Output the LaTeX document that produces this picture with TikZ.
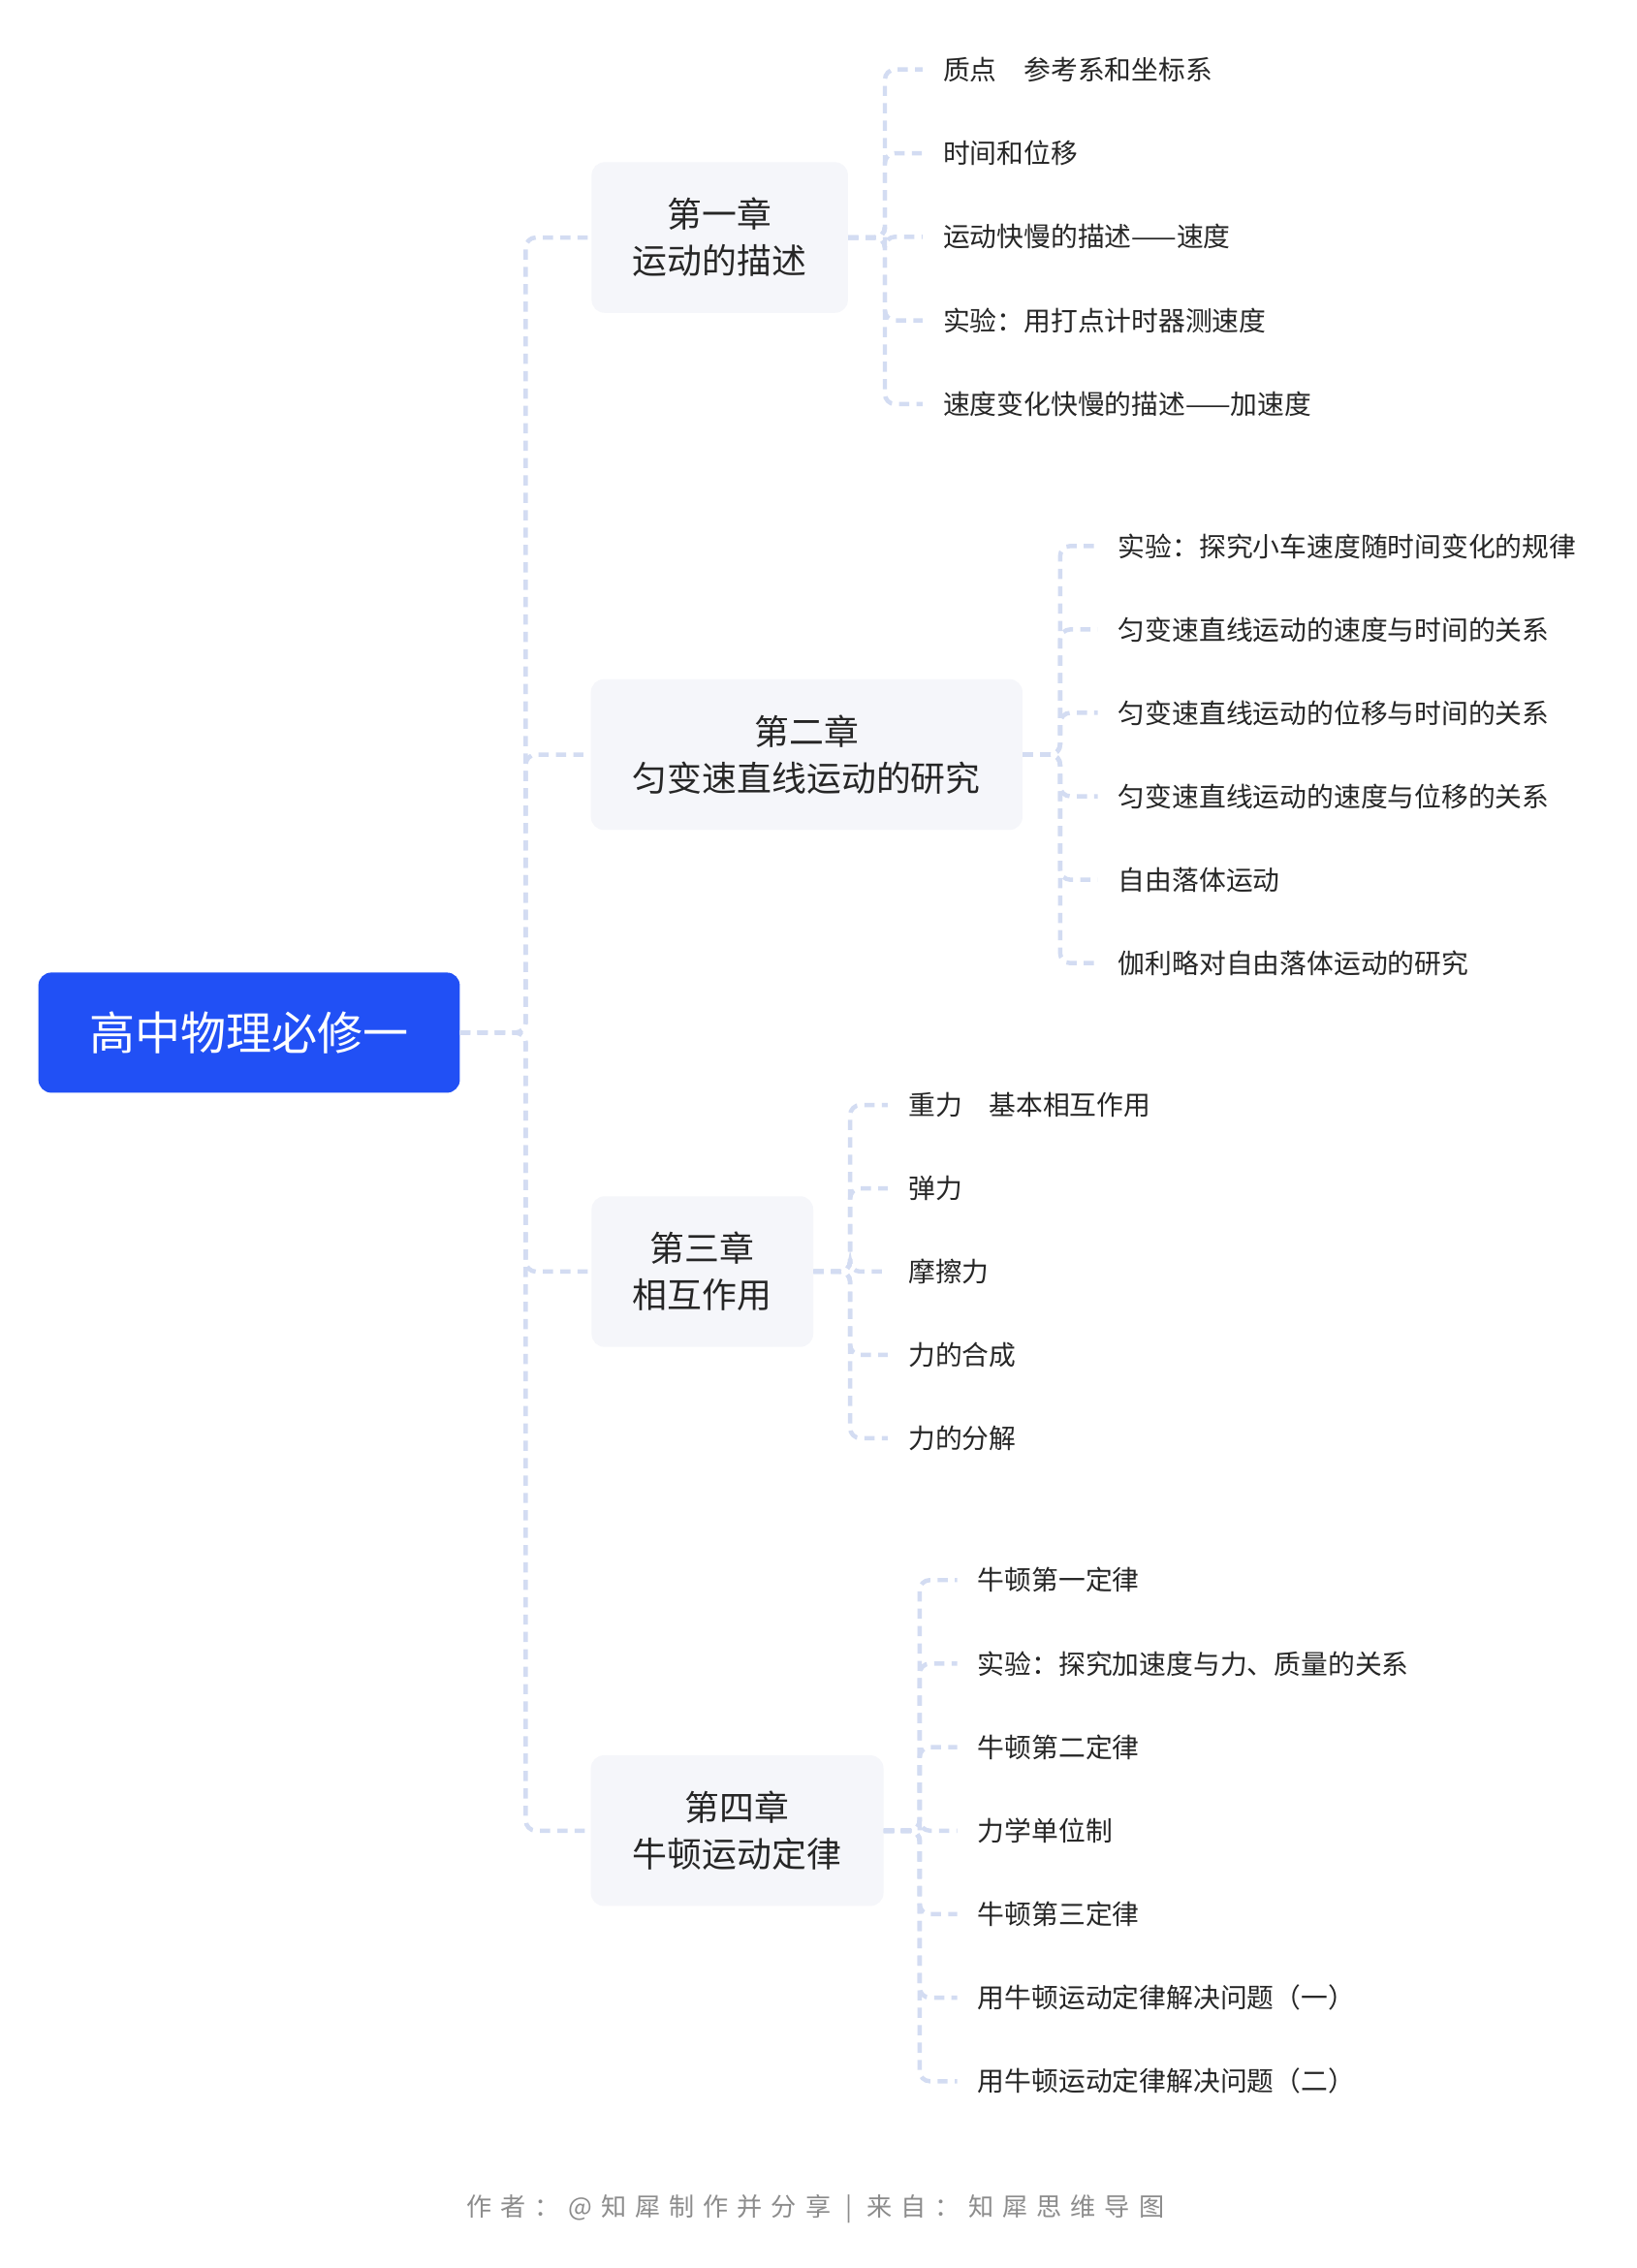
\documentclass[tikz,border=0pt]{standalone}
\usepackage{fontspec}
\setmainfont{Noto Sans CJK SC}
\begin{document}
\begin{tikzpicture}[x=1pt,y=-1pt,
  conn/.style={draw=lineC,line width=3pt,dash pattern=on 7pt off 5pt,rounded corners=7pt},
  chap/.style={fill=chapF,rounded corners=9pt,minimum height=104pt,align=center,font=\fontsize{24}{32}\selectfont,text=black!85,inner xsep=28pt},
  leaf/.style={anchor=west,inner xsep=0pt,font=\fontsize{18.6}{20}\selectfont,text=black!85}]
\definecolor{lineC}{HTML}{D3DCF2}
\definecolor{chapF}{HTML}{F5F6FA}
\definecolor{rootC}{HTML}{2150F5}
\useasboundingbox[fill=white] (0,0) rectangle (1130,1566);
\node[fill=rootC,rounded corners=9pt,minimum width=291pt,minimum height=83pt,text=white,font=\fontsize{31.5}{36}\selectfont] (root) at (172,713) {高中物理必修一};
\node[chap,minimum width=177pt] (c1) at (497,164) {第一章\\运动的描述};
\node[chap,minimum width=298pt] (c2) at (557,521) {第二章\\匀变速直线运动的研究};
\node[chap,minimum width=153pt] (c3) at (485,878) {第三章\\相互作用};
\node[chap,minimum width=202pt] (c4) at (509,1264) {第四章\\牛顿运动定律};
\coordinate (tr) at (363,713);
\foreach \c in {c1,c2,c3,c4}{\draw[conn] (root.east) -- (tr) |- (\c.west);}
\foreach \t [count=\i] in {质点\quad 参考系和坐标系,时间和位移,运动快慢的描述——速度,实验：用打点计时器测速度,速度变化快慢的描述——加速度}{
  \node[leaf] (a\i) at (651,{48+57.75*(\i-1)}) {\t};
  \coordinate (ab\i) at (611,164);
  \draw[conn] (c1.east) -- (ab\i) |- ([xshift=-14pt]a\i.west);}
\foreach \t [count=\i] in {实验：探究小车速度随时间变化的规律,匀变速直线运动的速度与时间的关系,匀变速直线运动的位移与时间的关系,匀变速直线运动的速度与位移的关系,自由落体运动,伽利略对自由落体运动的研究}{
  \node[leaf] (b\i) at (772,{377+57.6*(\i-1)}) {\t};
  \coordinate (bb\i) at (732,521);
  \draw[conn] (c2.east) -- (bb\i) |- ([xshift=-14pt]b\i.west);}
\foreach \t [count=\i] in {重力\quad 基本相互作用,弹力,摩擦力,力的合成,力的分解}{
  \node[leaf] (d\i) at (627,{763+57.5*(\i-1)}) {\t};
  \coordinate (db\i) at (587,878);
  \draw[conn] (c3.east) -- (db\i) |- ([xshift=-14pt]d\i.west);}
\foreach \t [count=\i] in {牛顿第一定律,实验：探究加速度与力、质量的关系,牛顿第二定律,力学单位制,牛顿第三定律,用牛顿运动定律解决问题（一）,用牛顿运动定律解决问题（二）}{
  \node[leaf] (e\i) at (675,{1091+57.67*(\i-1)}) {\t};
  \coordinate (eb\i) at (635,1264);
  \draw[conn] (c4.east) -- (eb\i) |- ([xshift=-14pt]e\i.west);}
\node[text=black!45,font=\fontsize{17.5}{20}\selectfont] (ft) at (563,1525) {作\hspace{6pt}者\hspace{6pt}：\hspace{6pt}@\hspace{6pt}知\hspace{6pt}犀\hspace{6pt}制\hspace{6pt}作\hspace{6pt}并\hspace{6pt}分\hspace{6pt}享\hspace{10pt}|\hspace{10pt}来\hspace{6pt}自\hspace{6pt}：\hspace{6pt}知\hspace{6pt}犀\hspace{6pt}思\hspace{6pt}维\hspace{6pt}导\hspace{6pt}图};
\end{tikzpicture}
\end{document}
